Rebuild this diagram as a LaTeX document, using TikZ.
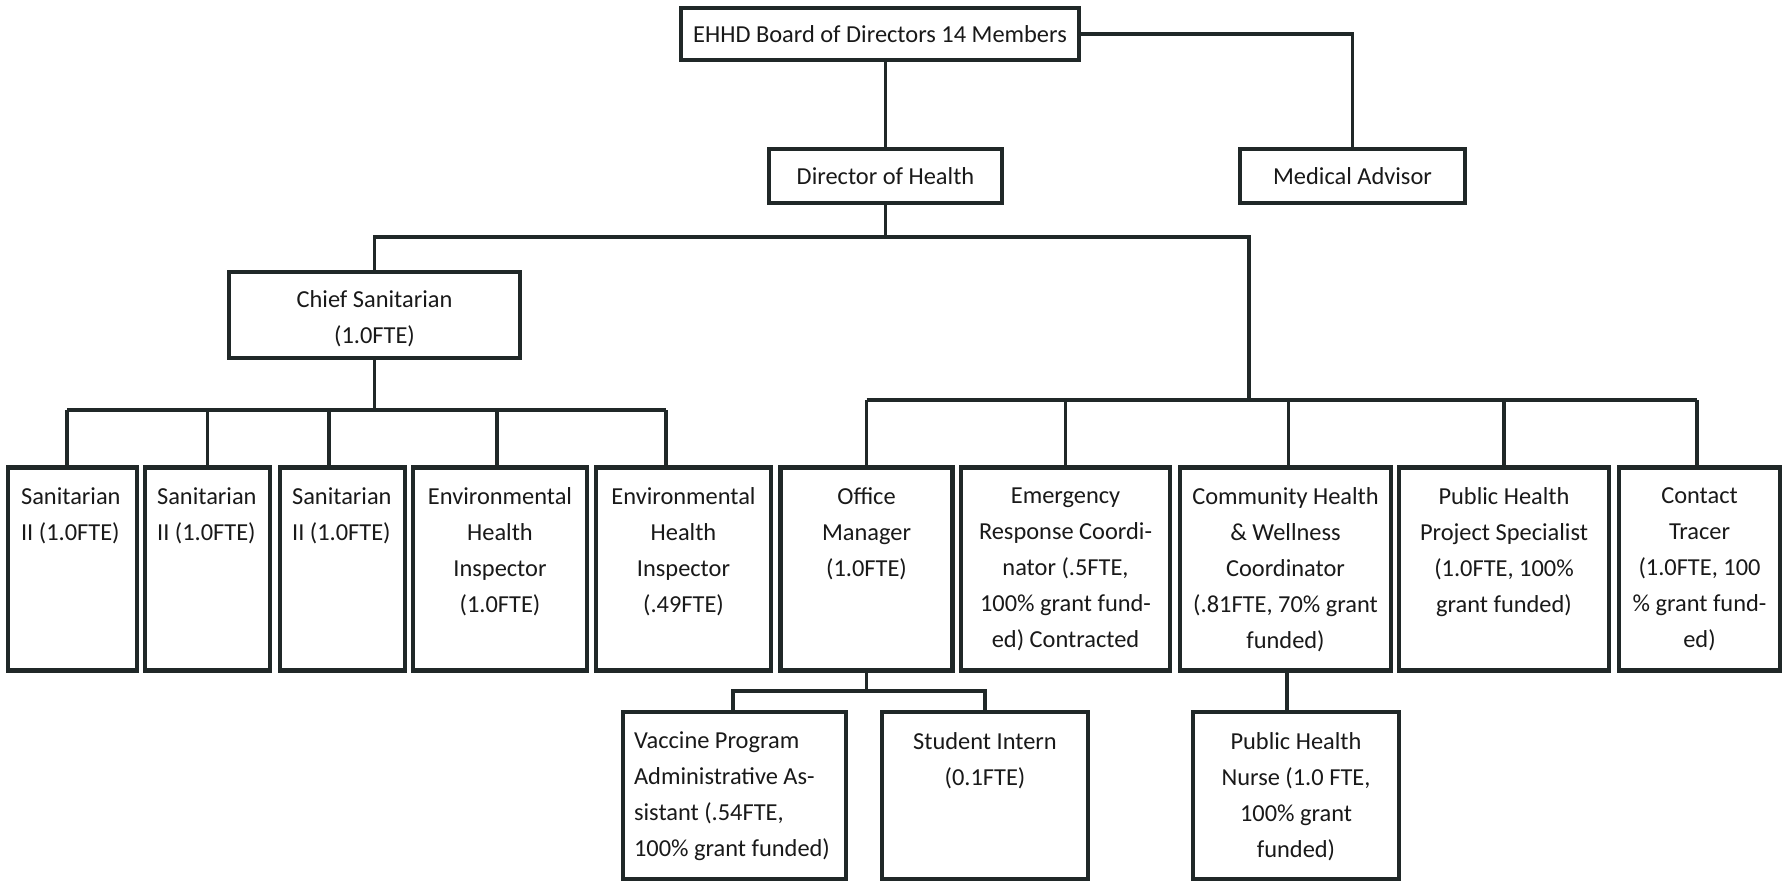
\documentclass[tikz,border=0pt]{standalone}
\usepackage{fontspec}
\setmainfont{Carlito}
\definecolor{inkc}{RGB}{32,40,40}
\begin{document}
\begin{tikzpicture}[x=1pt,y=-1pt,
  box/.style={draw=inkc, line width=4.2pt, rectangle, inner sep=0pt, fill=white},
  conn/.style={draw=inkc, line width=3.3pt},
  txt/.style={inner sep=0pt, font=\fontsize{24.4}{36}\selectfont, text=black!90},
  ctxt/.style={txt, align=center, anchor=north},
  ltxt/.style={txt, align=left, anchor=north west}
]
\fill[white] (0,0) rectangle (1785,881);
\useasboundingbox (0,0) rectangle (1785,881);

% top level
\node[box, minimum width=398pt, minimum height=52pt] (board) at (880,34) {};
\node[txt] (tboard) at (board.center) {EHHD Board of Directors 14 Members};
\node[box, minimum width=233pt, minimum height=54pt] (dir) at (885.5,176) {};
\node[txt] (tdir) at (dir.center) {Director of Health};
\node[box, minimum width=225pt, minimum height=54pt] (med) at (1352.5,176) {};
\node[txt] (tmed) at (med.center) {Medical Advisor};
\node[box, minimum width=291pt, minimum height=86pt] (chief) at (374.5,315) {};
\node[ctxt] (tchief) at ([yshift=-20pt]chief.north) {Chief Sanitarian\\(1.0FTE)};

% row boxes
\node[box, minimum width=129pt, minimum height=203pt] (s1) at (72.5,569) {};
\node[box, minimum width=125pt, minimum height=203pt] (s2) at (207.5,569) {};
\node[box, minimum width=125pt, minimum height=203pt] (s3) at (342.5,569) {};
\node[box, minimum width=174pt, minimum height=203pt] (s4) at (500,569) {};
\node[box, minimum width=175pt, minimum height=203pt] (s5) at (683.5,569) {};
\node[box, minimum width=172pt, minimum height=203pt] (om) at (866.5,569) {};
\node[box, minimum width=209pt, minimum height=203pt] (er) at (1065.5,569) {};
\node[box, minimum width=211pt, minimum height=203pt] (ch) at (1285.5,569) {};
\node[box, minimum width=210pt, minimum height=203pt] (ps) at (1504,569) {};
\node[box, minimum width=161pt, minimum height=203pt] (ct) at (1699.5,569) {};

\node[ltxt] (ts1) at ([xshift=15pt,yshift=-22pt]s1.north west) {Sanitarian\\II (1.0FTE)};
\node[ltxt] (ts2) at ([xshift=14pt,yshift=-22pt]s2.north west) {Sanitarian\\II (1.0FTE)};
\node[ltxt] (ts3) at ([xshift=14pt,yshift=-22pt]s3.north west) {Sanitarian\\II (1.0FTE)};
\node[ctxt] (ts4) at ([yshift=-22pt]s4.north) {Environmental\\Health\\Inspector\\(1.0FTE)};
\node[ctxt] (ts5) at ([yshift=-22pt]s5.north) {Environmental\\Health\\Inspector\\(.49FTE)};
\node[ctxt] (tom) at ([yshift=-22pt]om.north) {Office\\Manager\\(1.0FTE)};
\node[ctxt] (ter) at ([yshift=-22pt]er.north) {Emergency\\Response Coordi-\\nator (.5FTE,\\100\% grant fund-\\ed) Contracted};
\node[ctxt] (tch) at ([yshift=-22pt]ch.north) {Community Health\\\& Wellness\\Coordinator\\(.81FTE, 70\% grant\\funded)};
\node[ctxt] (tps) at ([yshift=-22pt]ps.north) {Public Health\\Project Specialist\\(1.0FTE, 100\%\\grant funded)};
\node[ctxt] (tct) at ([yshift=-22pt]ct.north) {Contact\\Tracer\\(1.0FTE, 100\\\% grant fund-\\ed)};

% bottom boxes
\node[box, minimum width=223pt, minimum height=167pt] (va) at (734.5,795.5) {};
\node[box, minimum width=206pt, minimum height=167pt] (si) at (985,795.5) {};
\node[box, minimum width=206pt, minimum height=167pt] (pn) at (1296,795.5) {};
\node[ltxt] (tva) at ([xshift=13pt,yshift=-22pt]va.north west) {Vaccine Program\\Administrative As-\\sistant (.54FTE,\\100\% grant funded)};
\node[ctxt] (tsi) at ([yshift=-22pt]si.north) {Student Intern\\(0.1FTE)};
\node[ctxt] (tpn) at ([yshift=-22pt]pn.north) {Public Health\\Nurse (1.0 FTE,\\100\% grant\\funded)};

% junction coordinates
\coordinate (dbus) at (885.5,237);
\coordinate (rj) at (1249,237);
\coordinate (rbus) at (1249,400);
\coordinate (lbus) at (374.5,410);
\coordinate (obus) at (866.5,691);

% connectors
\draw[conn] (board.east) -| (med.north);
\draw[conn] (dir.north) -- (dir.north |- board.south);
\draw[conn] (dir.south) -- (dbus);
\draw[conn] (chief.north) |- (rj) -- (rbus);
\draw[conn] (chief.south) -- (lbus);

\draw[conn] ([xshift=-5.5pt]s1.north |- lbus) -- ([xshift=-17.5pt]s5.north |- lbus);
\draw[conn] ([xshift=-5.5pt]s1.north) -- ([xshift=-5.5pt]s1.north |- lbus);
\draw[conn] (s2.north) -- (s2.north |- lbus);
\draw[conn] ([xshift=-13.5pt]s3.north) -- ([xshift=-13.5pt]s3.north |- lbus);
\draw[conn] ([xshift=-3pt]s4.north) -- ([xshift=-3pt]s4.north |- lbus);
\draw[conn] ([xshift=-17.5pt]s5.north) -- ([xshift=-17.5pt]s5.north |- lbus);

\draw[conn] (om.north |- rbus) -- ([xshift=-2.5pt]ct.north |- rbus);
\draw[conn] (om.north) -- (om.north |- rbus);
\draw[conn] (er.north) -- (er.north |- rbus);
\draw[conn] ([xshift=3pt]ch.north) -- ([xshift=3pt]ch.north |- rbus);
\draw[conn] (ps.north) -- (ps.north |- rbus);
\draw[conn] ([xshift=-2.5pt]ct.north) -- ([xshift=-2.5pt]ct.north |- rbus);

\draw[conn] (om.south) -- (obus);
\draw[conn] ([xshift=-1.5pt]va.north) |- (obus) -| (si.north);
\draw[conn] ([xshift=1.5pt]ch.south) -- ([xshift=1.5pt]ch.south |- pn.north);
\end{tikzpicture}
\end{document}
